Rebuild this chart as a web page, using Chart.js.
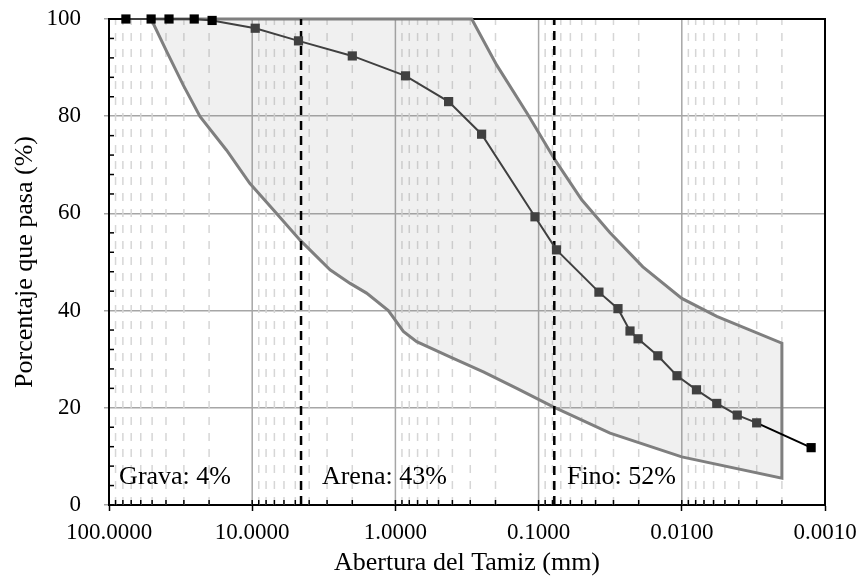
<!DOCTYPE html>
<html>
<head>
<meta charset="utf-8">
<script src="https://cdn.jsdelivr.net/npm/chart.js@4/dist/chart.umd.min.js"></script>
<style>
  html, body { margin: 0; padding: 0; background: #fff; }
  #wrap { width: 861px; height: 583px; position: relative; }
</style>
</head>
<body>
<div id="wrap"><canvas id="chart"></canvas></div>
<script>
// sieve + hydrometer results
const sieveSize = [76.2, 50.8, 38.1, 25.4, 19.05, 9.525, 4.75, 2.0, 0.85, 0.425, 0.25, 0.106, 0.075,
	0.0379, 0.0279, 0.0230, 0.0202, 0.0147, 0.0108, 0.0079, 0.0057, 0.0041, 0.0030, 0.00125];
const percentPassing = [100, 100, 100, 100, 99.7, 98.1, 95.5, 92.4, 88.3, 83.0, 76.3, 59.3, 52.5,
	43.8, 40.4, 35.8, 34.2, 30.7, 26.6, 23.7, 20.9, 18.5, 16.9, 11.8];

// envelope limits
const upperSize = [50.8, 0.293, 0.196, 0.118, 0.0768, 0.050, 0.0317, 0.0187, 0.010, 0.0057, 0.002];
const upperPct = [100, 100, 90.5, 80.2, 71.0, 62.8, 56.0, 49.0, 42.5, 38.8, 33.3];
const lowerSize = [50.8, 39.5, 30.3, 23.1, 15.1, 10.4, 7.1, 4.63, 2.86, 2.07, 1.59, 1.12, 0.88, 0.71,
	0.416, 0.243, 0.142, 0.079, 0.0317, 0.010, 0.002];
const lowerPct = [100, 93.3, 86.4, 79.9, 73.0, 66.2, 60.7, 54.5, 48.4, 45.6, 43.6, 40.0, 35.7, 33.6,
	30.5, 27.4, 24.0, 20.2, 14.8, 9.9, 5.5];

// grava / arena / fino limits
const dividerSize = [4.56, 0.0777];
const fractionLabels = ['Grava: 4%', 'Arena: 43%', 'Fino: 52%'];

const xTicks = [100, 10, 1, 0.1, 0.01, 0.001];
const yTicks = [0, 20, 40, 60, 80, 100];

const FONT = "'Liberation Serif', 'Times New Roman', serif";

function pts(xs, ys) {
	return xs.map((v, i) => ({ x: v, y: ys[i] }));
}

const envelope = pts(upperSize, upperPct).concat(pts(lowerSize, lowerPct).reverse());
const lastIdx = sieveSize.length - 1;
const pointColors = sieveSize.map((v, i) => (i < 5 || i === lastIdx) ? '#000' : '#404040');

const datasets = [{
	data: pts(sieveSize, percentPassing),
	showLine: true,
	borderColor: '#404040',
	borderWidth: 2,
	pointStyle: 'rect',
	pointRadius: 6.5,
	pointBackgroundColor: pointColors,
	pointBorderColor: pointColors,
	pointBorderWidth: 0,
	segment: {
		borderColor: ctx => ctx.p1DataIndex === lastIdx ? '#000' : undefined
	},
	clip: false
}];
dividerSize.forEach(s => {
	datasets.push({
		data: [{ x: s, y: 0 }, { x: s, y: 100 }],
		showLine: true,
		borderColor: '#000',
		borderWidth: 2.5,
		borderDash: [9, 6],
		pointRadius: 0
	});
});
datasets.push({
	data: envelope,
	showLine: true,
	borderColor: '#7f7f7f',
	borderWidth: 3,
	fill: 'shape',
	backgroundColor: 'rgba(128,128,128,0.12)',
	pointRadius: 0,
	tension: 0,
	clip: 4
});

const gridPlugin = {
	id: 'logGrid',
	beforeDatasetsDraw(chart) {
		const { ctx, chartArea: a, scales: { x, y } } = chart;
		ctx.save();
		for (let e = -3; e <= 1; e++) {
			for (let k = 1; k <= 9; k++) {
				const v = k * Math.pow(10, e);
				if (v <= 0.001 || v >= 100) continue;
				const px = x.getPixelForValue(v);
				ctx.beginPath();
				if (k === 1) {
					ctx.setLineDash([]);
					ctx.strokeStyle = '#a6a6a6';
				} else {
					ctx.setLineDash([8, 8]);
					ctx.strokeStyle = '#d6d6d6';
				}
				ctx.lineWidth = 1.5;
				ctx.moveTo(px, a.bottom);
				ctx.lineTo(px, a.top);
				ctx.stroke();
				// small inner tick on the axis
				ctx.setLineDash([]);
				ctx.strokeStyle = '#000';
				ctx.beginPath();
				ctx.moveTo(px, a.bottom);
				ctx.lineTo(px, a.bottom - 5);
				ctx.stroke();
			}
		}
		ctx.setLineDash([]);
		ctx.strokeStyle = '#000';
		ctx.lineWidth = 1.5;
		for (let v = 4; v < 100; v += 4) {
			if (v % 20 === 0) continue;
			const py = y.getPixelForValue(v);
			ctx.beginPath();
			ctx.moveTo(a.left, py);
			ctx.lineTo(a.left + 5, py);
			ctx.stroke();
		}
		// frame
		ctx.lineWidth = 2;
		ctx.beginPath();
		ctx.moveTo(a.left, a.top);
		ctx.lineTo(a.right, a.top);
		ctx.lineTo(a.right, a.bottom);
		ctx.stroke();
		ctx.restore();
	}
};

const labelPlugin = {
	id: 'fractionLabels',
	afterDatasetsDraw(chart) {
		const { ctx, scales: { x, y } } = chart;
		const at = [85, 3.26, 0.0634];
		ctx.save();
		ctx.font = '26px ' + FONT;
		ctx.fillStyle = '#000';
		ctx.textAlign = 'left';
		ctx.textBaseline = 'middle';
		fractionLabels.forEach((t, i) => {
			ctx.fillText(t, x.getPixelForValue(at[i]), y.getPixelForValue(5.8));
		});
		ctx.restore();
	}
};

new Chart(document.getElementById('chart'), {
	type: 'scatter',
	data: { datasets: datasets },
	plugins: [gridPlugin, labelPlugin],
	options: {
		responsive: true,
		maintainAspectRatio: false,
		animation: false,
		layout: { autoPadding: false, padding: { left: 10, right: 36, top: 19, bottom: 0 } },
		plugins: {
			legend: { display: false },
			tooltip: { enabled: false }
		},
		scales: {
			x: {
				type: 'logarithmic',
				reverse: true,
				min: 0.001,
				max: 100,
				afterBuildTicks: s => { s.ticks = xTicks.map(v => ({ value: v })); },
				afterFit: s => { s.height = 78; s.paddingLeft = 0; s.paddingRight = 0; },
				ticks: {
					autoSkip: false,
					maxRotation: 0,
					padding: 8,
					color: '#000',
					font: { family: FONT, size: 23 },
					callback: v => Number(v).toFixed(4)
				},
				grid: { drawOnChartArea: false, tickLength: 6, tickColor: '#000', tickWidth: 1.5 },
				border: { color: '#000', width: 2 },
				title: {
					display: true,
					text: 'Abertura del Tamiz (mm)',
					color: '#000',
					font: { family: FONT, size: 26 },
					padding: { top: 0, bottom: 4 }
				}
			},
			y: {
				min: 0,
				max: 100,
				afterBuildTicks: s => { s.ticks = yTicks.map(v => ({ value: v })); },
				afterFit: s => { s.width = 99; s.paddingTop = 0; s.paddingBottom = 0; },
				ticks: {
					padding: 23,
					color: '#000',
					font: { family: FONT, size: 23 }
				},
				grid: { color: '#a6a6a6', lineWidth: 1.5, tickLength: 5, tickColor: '#a6a6a6' },
				border: { color: '#000', width: 2 },
				title: {
					display: true,
					text: 'Porcentaje que pasa (%)',
					color: '#000',
					font: { family: FONT, size: 26 },
					padding: { top: 0, bottom: 0 }
				}
			}
		}
	}
});
</script>
</body>
</html>
